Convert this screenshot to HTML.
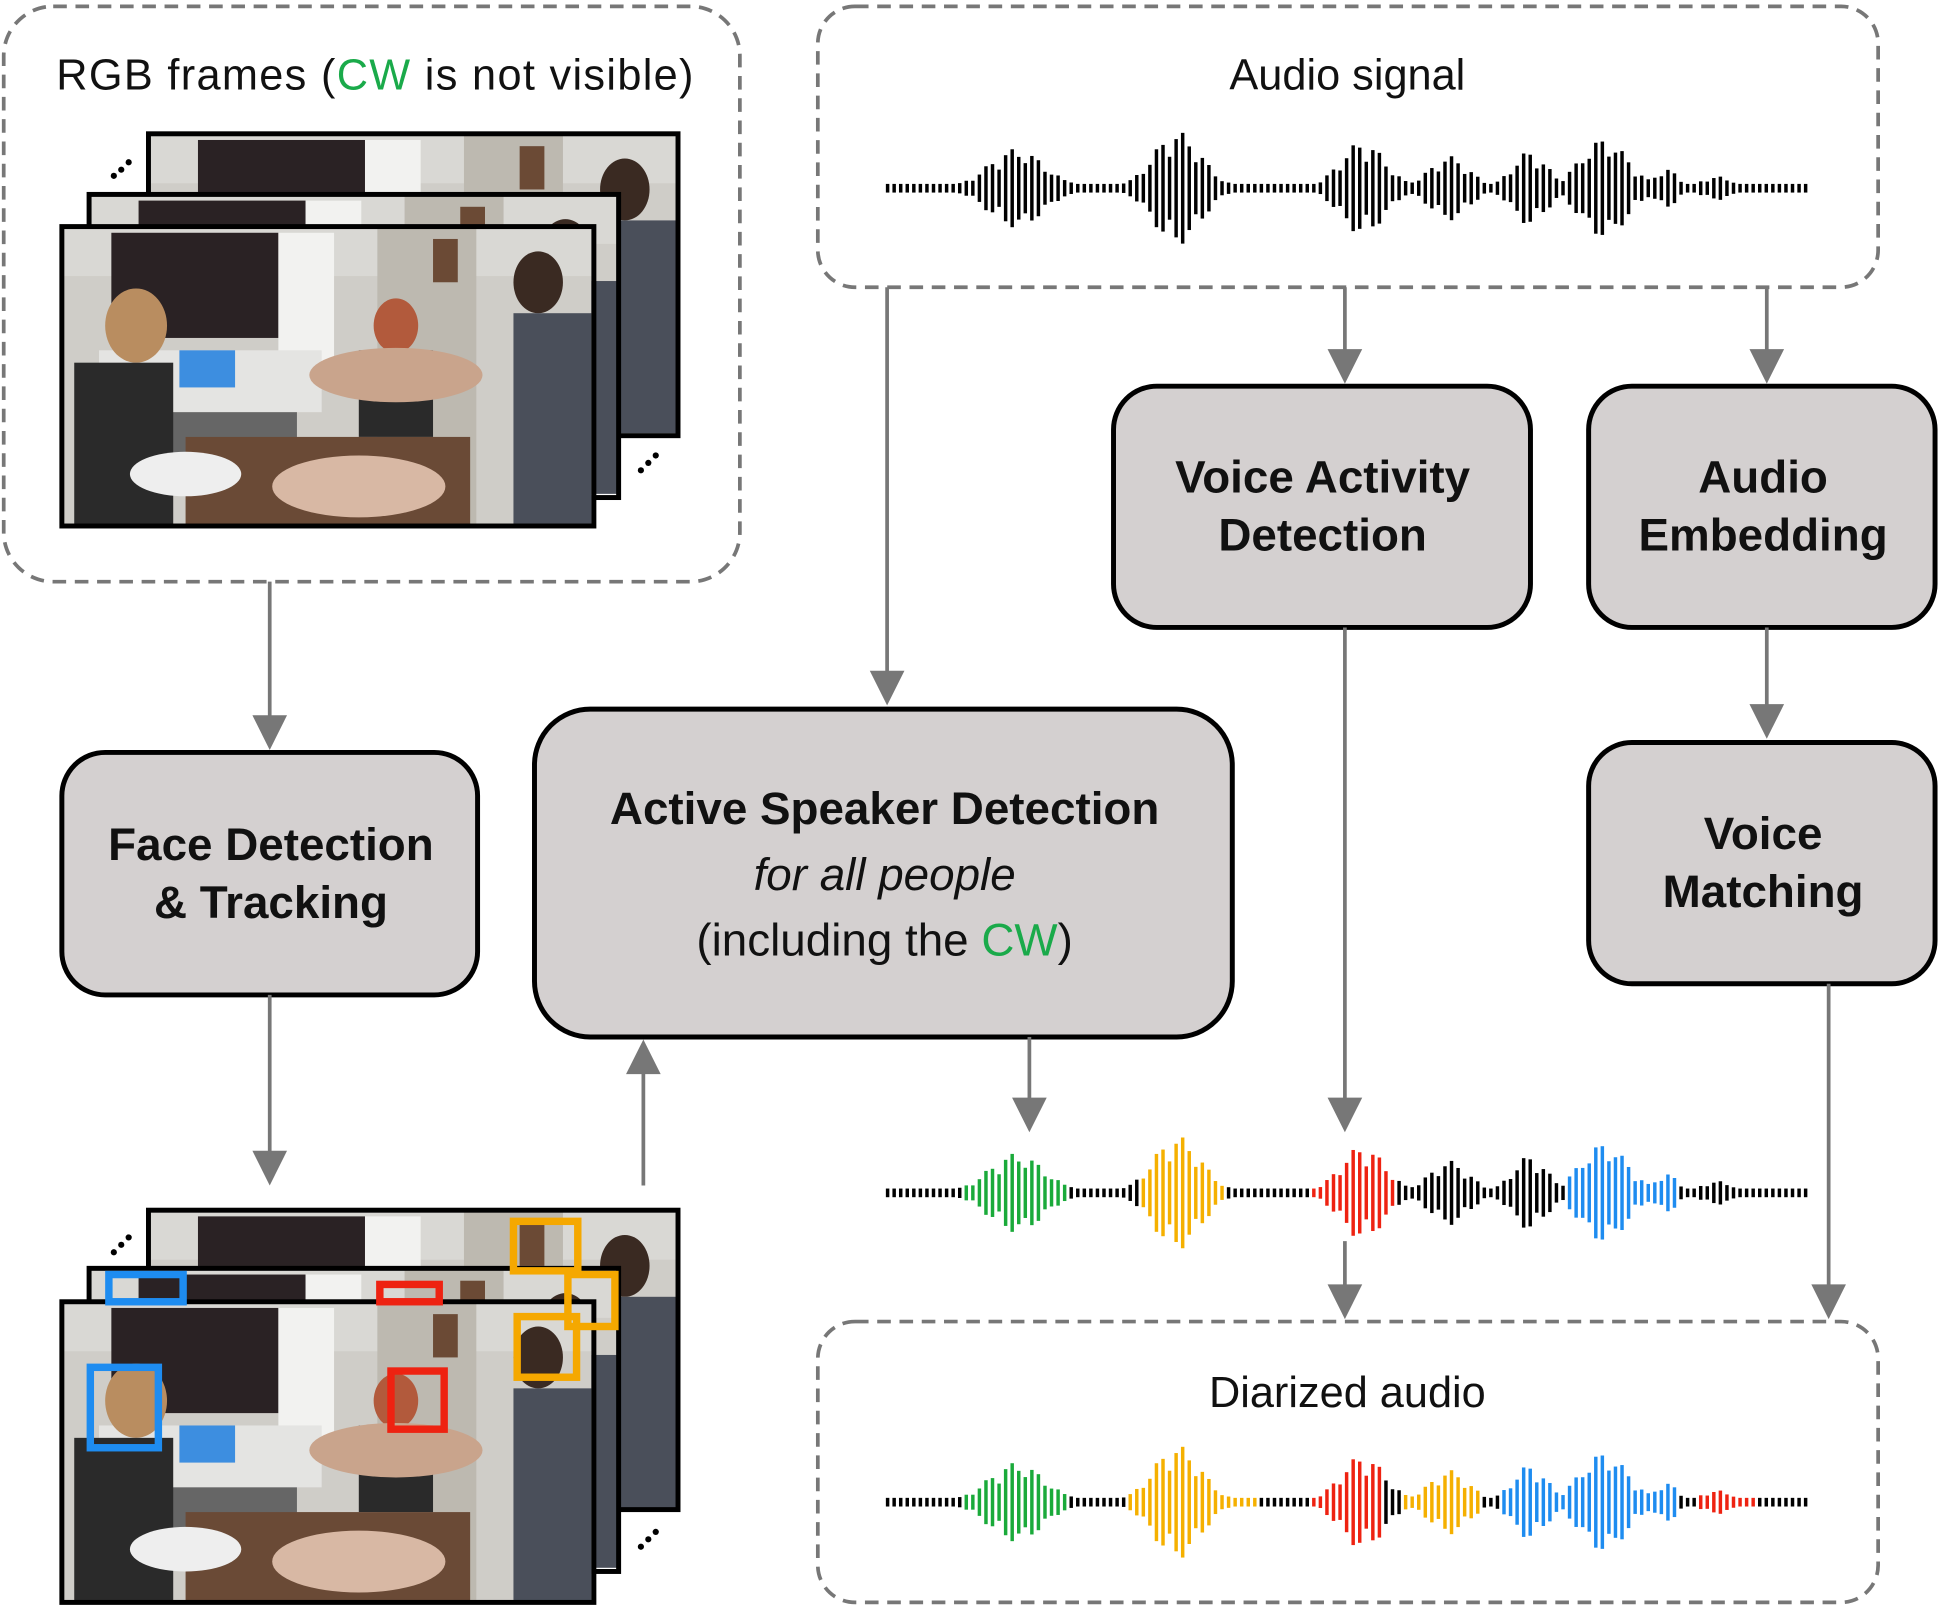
<!DOCTYPE html>
<html><head><meta charset="utf-8"><style>
html,body{margin:0;padding:0;background:#fff}
svg{display:block}
text{font-family:"Liberation Sans",sans-serif}
</style></head><body>
<svg id="s" width="1940" height="1610" viewBox="0 0 1568 1301" xmlns="http://www.w3.org/2000/svg">
<defs>
<g id="photo" stroke="none">
<rect x="0" y="0" width="428" height="242" fill="#cfcdc8"/>
<rect x="0" y="0" width="428" height="40" fill="#d9d8d4"/>
<rect x="40" y="5" width="135" height="85" fill="#2a2224"/>
<rect x="175" y="5" width="45" height="110" fill="#f2f2f0"/>
<rect x="30" y="100" width="180" height="50" fill="#e4e4e2"/>
<rect x="95" y="100" width="45" height="30" fill="#3d8ee0"/>
<rect x="70" y="150" width="120" height="60" fill="#666"/>
<rect x="255" y="0" width="80" height="242" fill="#bdb9b0"/>
<rect x="300" y="10" width="20" height="35" fill="#6b4a35"/>
<ellipse cx="60" cy="80" rx="25" ry="30" fill="#b98d60"/>
<rect x="10" y="110" width="80" height="132" fill="#2a2a2a"/>
<ellipse cx="270" cy="80" rx="18" ry="22" fill="#b25a3c"/>
<rect x="240" y="100" width="60" height="70" fill="#2a2a2a"/>
<ellipse cx="385" cy="45" rx="20" ry="25" fill="#3a2a22"/>
<rect x="365" y="70" width="63" height="172" fill="#4a4f5a"/>
<rect x="100" y="170" width="230" height="72" fill="#6a4a36"/>
<ellipse cx="270" cy="120" rx="70" ry="22" fill="#c9a48c"/>
<ellipse cx="240" cy="210" rx="70" ry="25" fill="#d8b8a4"/>
<ellipse cx="100" cy="200" rx="45" ry="18" fill="#eee"/>
</g>
</defs>
<g fill="none" stroke="#777" stroke-width="3" stroke-dasharray="11,7">
<rect x="3" y="5" width="595" height="465" rx="40"/>
<rect x="661" y="5" width="857" height="227" rx="30"/>
<rect x="661" y="1068" width="857" height="227" rx="30"/>
</g>
<text x="303" y="72" font-size="35" text-anchor="middle" fill="#111" textLength="515">RGB frames (<tspan fill="#1aaa4a">CW</tspan> is not visible)</text>
<text x="1089" y="72" font-size="35" text-anchor="middle" fill="#111">Audio signal</text>
<text x="1089" y="1137" font-size="35" text-anchor="middle" fill="#111">Diarized audio</text>
<g>
<svg x="120" y="108" width="428" height="244" overflow="hidden"><use href="#photo"/></svg>
<rect x="120" y="108" width="428" height="244" fill="none" stroke="#000" stroke-width="4"/>
<svg x="72" y="157" width="428" height="245" overflow="hidden"><use href="#photo"/></svg>
<rect x="72" y="157" width="428" height="245" fill="none" stroke="#000" stroke-width="4"/>
<svg x="50" y="183" width="430" height="242" overflow="hidden"><use href="#photo"/></svg>
<rect x="50" y="183" width="430" height="242" fill="none" stroke="#000" stroke-width="4"/>
</g>
<g>
<svg x="120" y="978" width="428" height="242" overflow="hidden"><use href="#photo"/></svg>
<rect x="120" y="978" width="428" height="242" fill="none" stroke="#000" stroke-width="4"/>
<svg x="72" y="1025" width="428" height="245" overflow="hidden"><use href="#photo"/></svg>
<rect x="72" y="1025" width="428" height="245" fill="none" stroke="#000" stroke-width="4"/>
<svg x="50" y="1052" width="430" height="243" overflow="hidden"><use href="#photo"/></svg>
<rect x="50" y="1052" width="430" height="243" fill="none" stroke="#000" stroke-width="4"/>
</g>
<g fill="none" stroke-width="6">
<rect x="415" y="987" width="52" height="40" stroke="#f5a800"/>
<rect x="459" y="1030" width="38" height="42" stroke="#f5a800"/>
<rect x="88" y="1030" width="60" height="22" stroke="#1e8cf0"/>
<rect x="307" y="1038" width="48" height="14" stroke="#ee2211"/>
<rect x="73" y="1105" width="55" height="65" stroke="#1e8cf0"/>
<rect x="316" y="1108" width="43" height="47" stroke="#ee2211"/>
<rect x="418" y="1064" width="48" height="49" stroke="#f5a800"/>
</g>
<g fill="#000">
<circle cx="92" cy="142" r="2.5"/><circle cx="98" cy="137" r="2.5"/><circle cx="104" cy="131" r="2.5"/>
<circle cx="518" cy="380" r="2.5"/><circle cx="524" cy="374" r="2.5"/><circle cx="530" cy="368" r="2.5"/>
<circle cx="92" cy="1012" r="2.5"/><circle cx="98" cy="1006" r="2.5"/><circle cx="104" cy="1000" r="2.5"/>
<circle cx="518" cy="1250" r="2.5"/><circle cx="524" cy="1244" r="2.5"/><circle cx="530" cy="1238" r="2.5"/>
</g>
<g fill="#d4d0d0" stroke="#000" stroke-width="4">
<rect x="900" y="312" width="337" height="195" rx="35"/>
<rect x="1284" y="312" width="280" height="195" rx="35"/>
<rect x="1284" y="600" width="280" height="195" rx="35"/>
<rect x="50" y="608" width="336" height="196" rx="35"/>
<rect x="432" y="573" width="564" height="265" rx="45"/>
</g>
<g font-size="37" font-weight="bold" text-anchor="middle" fill="#111">
<text x="1069" y="398">Voice Activity</text><text x="1069" y="445">Detection</text>
<text x="1425" y="398">Audio</text><text x="1425" y="445">Embedding</text>
<text x="1425" y="686">Voice</text><text x="1425" y="733">Matching</text>
<text x="219" y="695">Face Detection</text><text x="219" y="742">&amp; Tracking</text>
<text x="715" y="666">Active Speaker Detection</text>
<text x="715" y="719" font-style="italic" font-weight="normal">for all people</text>
<text x="715" y="772" font-weight="normal">(including the <tspan fill="#1aaa4a">CW</tspan>)</text>
</g>
<g id="arrows" stroke="#777" stroke-width="3" fill="#777"></g>
<g id="waves"></g>
</svg>
<script>
var NS="http://www.w3.org/2000/svg";
var A=document.getElementById("arrows");
function arrow(x,y1,y2){var d=y2>y1?1:-1;var l=document.createElementNS(NS,"line");
l.setAttribute("x1",x);l.setAttribute("y1",y1);l.setAttribute("x2",x);l.setAttribute("y2",y2-d*26);A.appendChild(l);
var p=document.createElementNS(NS,"polygon");p.setAttribute("stroke","none");
p.setAttribute("points",(x-14)+","+(y2-d*28)+" "+(x+14)+","+(y2-d*28)+" "+x+","+y2);A.appendChild(p);}
arrow(717,232,570);arrow(1087,232,310);arrow(1428,232,310);arrow(1428,507,597);
arrow(218,470,606);arrow(218,804,958);arrow(520,958,840);arrow(832,838,915);
arrow(1087,507,915);arrow(1087,1003,1066);arrow(1478,795,1066);
var W=document.getElementById("waves");
var bursts=[[820,32,35],[950,46,30],[1100,38,28],[1170,26,25],[1235,30,22],[1295,40,30],[1345,16,15],[1385,10,18]];
function amp(x,i){var a=3.5;bursts.forEach(function(b){var t=(x-b[0])/b[2];var v=b[1]*Math.exp(-t*t*1.2);if(v>a)a=v;});
var r=0.55+0.45*Math.abs(Math.sin(i*2.3+1.7));if(a>5)a=Math.max(4,a*r);return a;}
function col(x,segs){for(var k=0;k<segs.length;k++){if(x>=segs[k][0]&&x<=segs[k][1])return segs[k][2];}return "#000";}
var G="#1aaa3a",O="#f5b000",R="#ee2211",B="#1e8cf0";
function wave(cy,segs){var i=0;for(var x=716;x<=1462;x+=5.3,i++){var a=amp(x,i);var r=document.createElementNS(NS,"rect");
r.setAttribute("x",x);r.setAttribute("y",cy-a);r.setAttribute("width",2.8);r.setAttribute("height",2*a);r.setAttribute("fill",col(x,segs));W.appendChild(r);}}
wave(152,[]);
wave(964,[[776,862,G],[918,988,O],[1060,1127,R],[1266,1356,B]]);
wave(1214,[[776,862,G],[910,1016,O],[1060,1116,R],[1134,1197,O],[1212,1356,B],[1368,1416,R]]);
</script>
</body></html>
